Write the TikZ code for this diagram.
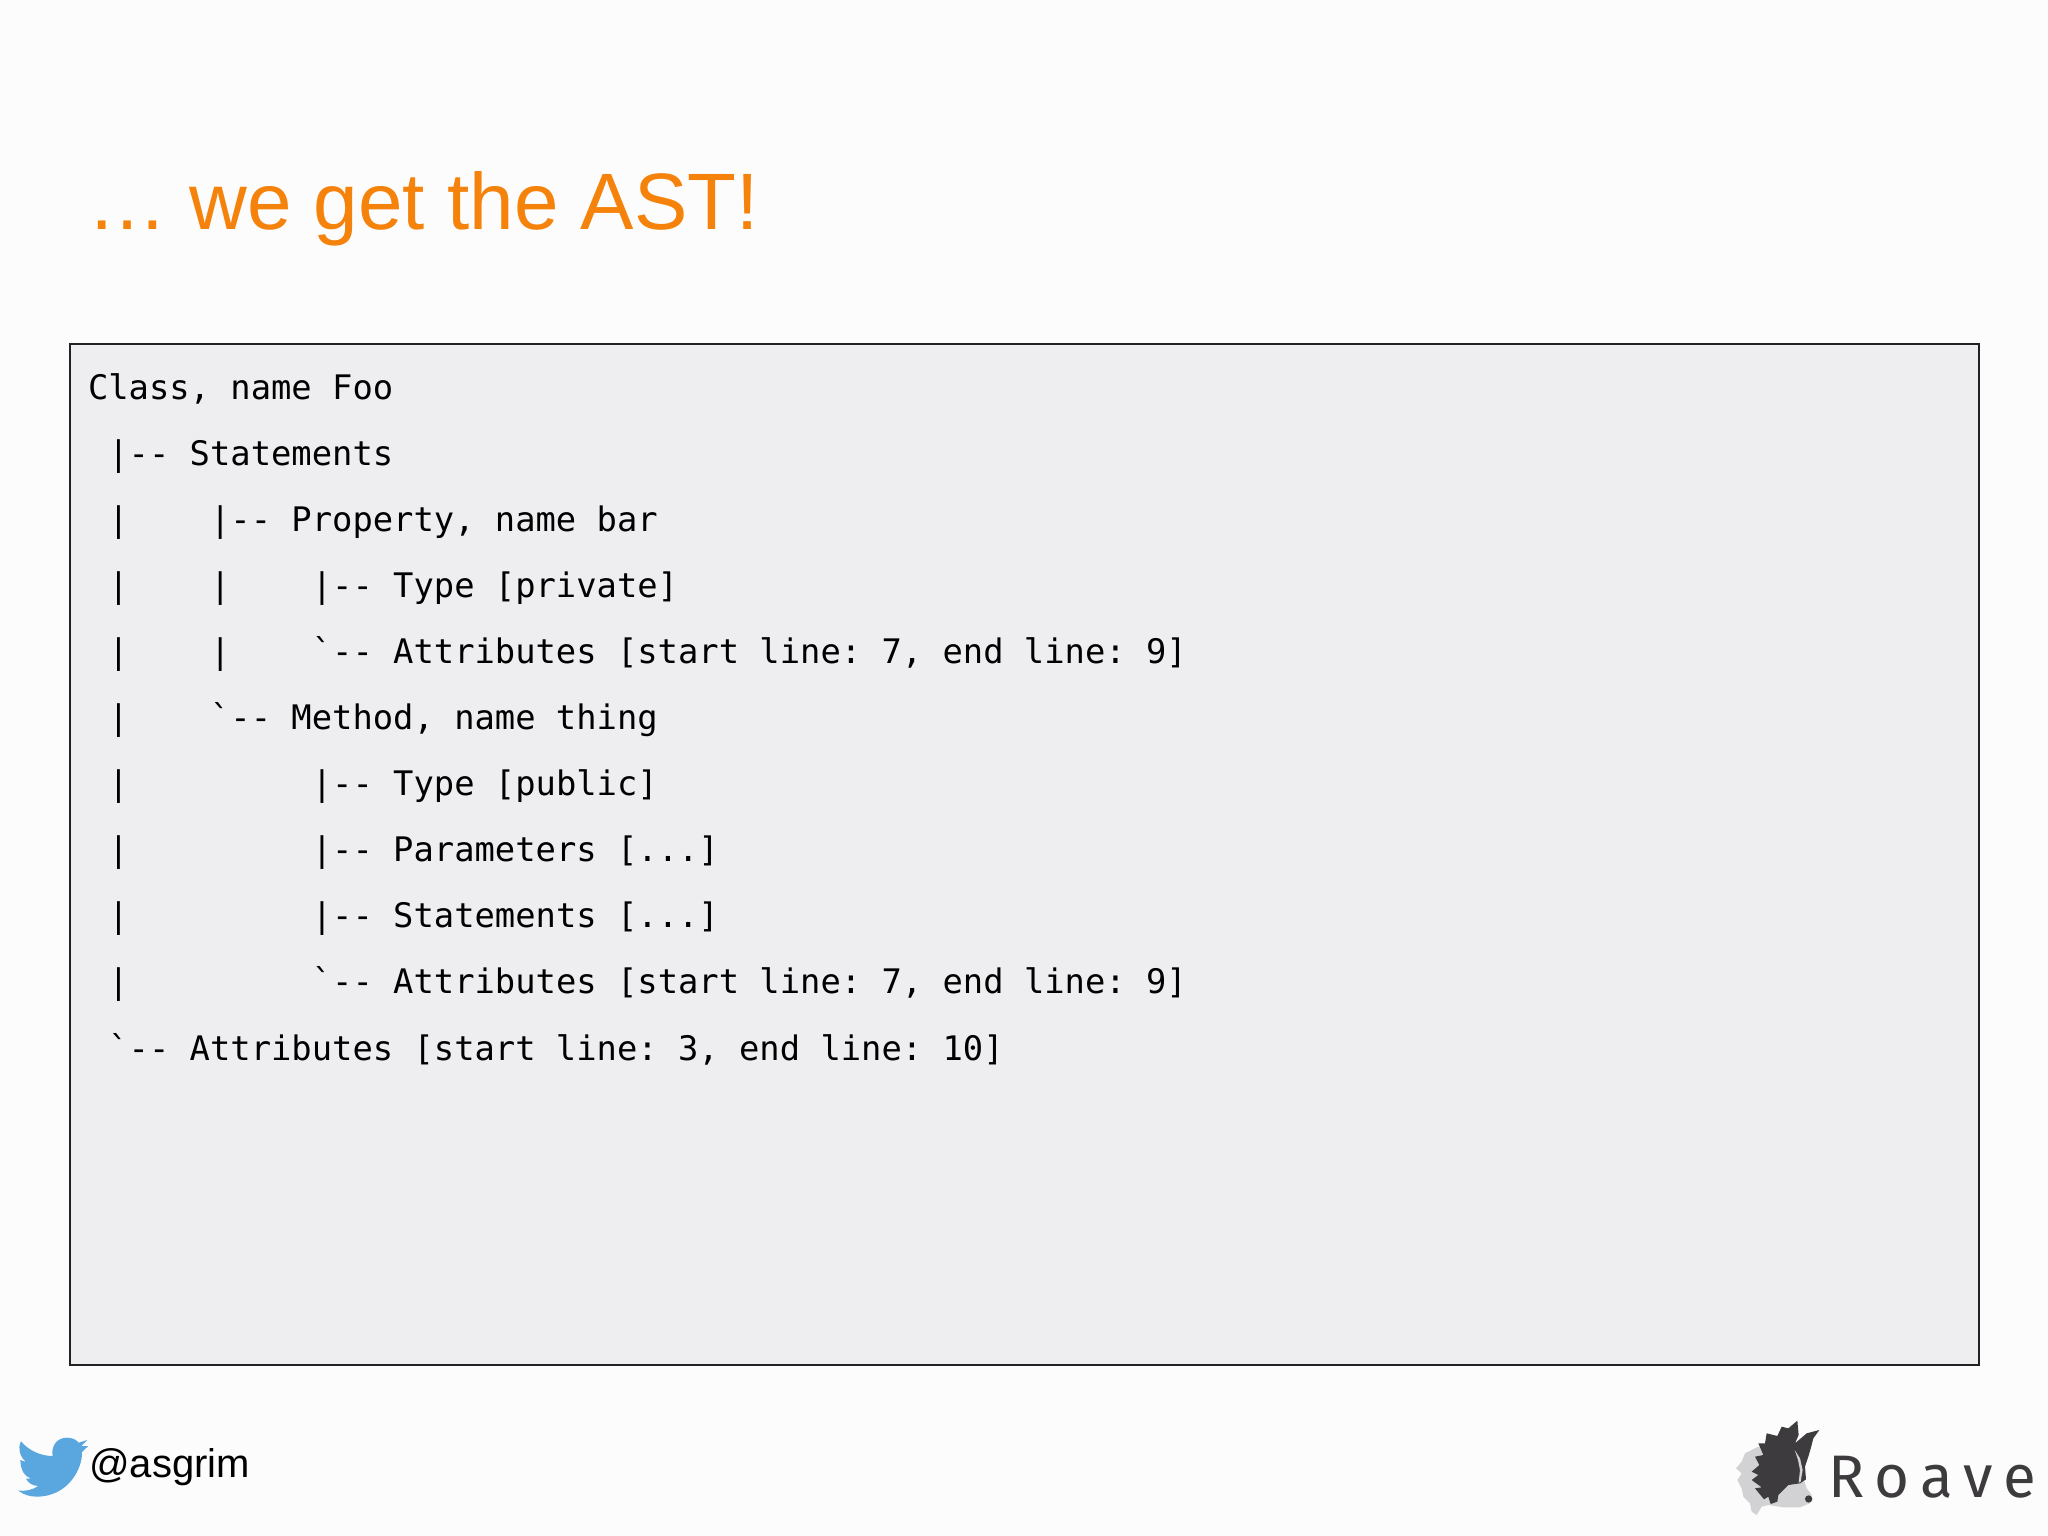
\documentclass[tikz,border=0pt]{standalone}
\usepackage{fontspec}
\setmainfont{Liberation Sans}
\setmonofont{DejaVu Sans Mono}
\newfontfamily\logofont{Fira Sans}
\definecolor{titleorange}{HTML}{F5820A}
\definecolor{panelfill}{HTML}{EEEDEF}
\definecolor{panelline}{HTML}{222222}
\definecolor{birdblue}{HTML}{5AA7E0}
\definecolor{logodark}{HTML}{3D3B3D}
\definecolor{logolight}{HTML}{D2D1D3}
\tikzset{
  codeline/.style={anchor=base west,inner sep=0pt,outer sep=0pt,text=black,font=\ttfamily\fontsize{33.8}{40}\selectfont},
  titletext/.style={anchor=base west,inner sep=0pt,text=titleorange,font=\fontsize{80}{90}\selectfont},
  handle/.style={anchor=base west,inner sep=0pt,text=black,font=\fontsize{40}{44}\selectfont},
  logotext/.style={anchor=base west,inner sep=0pt,text=logodark,font=\logofont\fontsize{60}{66}\selectfont\addfontfeature{LetterSpace=18.5}},
}
\begin{document}
\begin{tikzpicture}[x=1pt,y=-1pt]
\useasboundingbox (0,0) rectangle (2048,1536);
\fill[white!99!black] (0,0) rectangle (2048,1536);
\node[titletext] (title) at (87,229) {… we get the AST!};
\draw[fill=panelfill,draw=panelline,line width=2pt] (70,344) rectangle (1979,1365);
\node[codeline] (l1) at (88,399) {Class, name Foo};
\node[codeline] (l2) at (88,465.1) {~|-- Statements};
\node[codeline] (l3) at (88,531.2) {~|~~~~|-- Property, name bar};
\node[codeline] (l4) at (88,597.3) {~|~~~~|~~~~|-- Type [private]};
\node[codeline] (l5) at (88,663.4) {~|~~~~|~~~~`-- Attributes [start line: 7, end line: 9]};
\node[codeline] (l6) at (88,729.5) {~|~~~~`-- Method, name thing};
\node[codeline] (l7) at (88,795.6) {~|~~~~~~~~~|-- Type [public]};
\node[codeline] (l8) at (88,861.7) {~|~~~~~~~~~|-- Parameters [...]};
\node[codeline] (l9) at (88,927.8) {~|~~~~~~~~~|-- Statements [...]};
\node[codeline] (l10) at (88,993.9) {~|~~~~~~~~~`-- Attributes [start line: 7, end line: 9]};
\node[codeline] (l11) at (88,1060) {~`-- Attributes [start line: 3, end line: 10]};
% bird
\begin{scope}[shift={(0pt,-1400pt)},x=0.3333pt,y=-0.3333pt]
\fill[birdblue] (200,113) .. controls (218,113) and (230,120) .. (236,128)
  -- (262,120) -- (244,138) -- (265,138) -- (246,156)
  .. controls (248,205) and (205,290) .. (110,290)
  .. controls (90,290) and (70,284) .. (55,272)
  .. controls (75,274) and (98,270) .. (115,258)
  .. controls (98,258) and (84,248) .. (78,236)
  -- (94,236)
  .. controls (74,230) and (62,212) .. (61,180)
  -- (78,186)
  .. controls (60,170) and (52,146) .. (63,124)
  .. controls (85,150) and (120,168) .. (158,168)
  .. controls (152,138) and (172,113) .. (200,113) -- cycle;
\end{scope}
\node[handle] (twitter) at (89,1477) {@asgrim};
% logo
\begin{scope}[shift={(1700pt,-1400pt)},x=0.3333pt,y=-0.3333pt]
\fill[logolight] (175,140) -- (135,160) -- (125,185) -- (108,205) -- (125,220) -- (112,240) -- (125,265) -- (130,290) -- (150,310) -- (155,335) -- (170,345) -- (185,320) -- (205,315) -- (250,322) -- (300,322) -- (330,310) -- (335,285) -- (320,265) -- (312,240) -- (280,200) -- cycle;
\fill[logodark] (292,62) -- (296,105) -- (285,130) -- (320,100) -- (358,90) -- (340,115) -- (335,135) -- (325,170) -- (315,200) -- (318,238) -- (300,250) -- (265,255) -- (235,285) -- (232,305) -- (212,312) -- (205,290) -- (192,298) -- (165,265) -- (185,262) -- (155,240) -- (175,225) -- (155,215) -- (178,195) -- (165,170) -- (190,165) -- (175,130) -- (195,130) -- (200,100) -- (232,108) -- (245,80) -- (265,85) -- cycle;
\fill[logolight] (284,150) -- (300,175) -- (308,210) -- (302,245) -- (296,248) -- (300,210) -- (294,180) -- cycle;
\fill[logodark] (326,297) circle (11);
\end{scope}
\node[logotext] (roave) at (1828,1497) {Roave};
\end{tikzpicture}
\end{document}
